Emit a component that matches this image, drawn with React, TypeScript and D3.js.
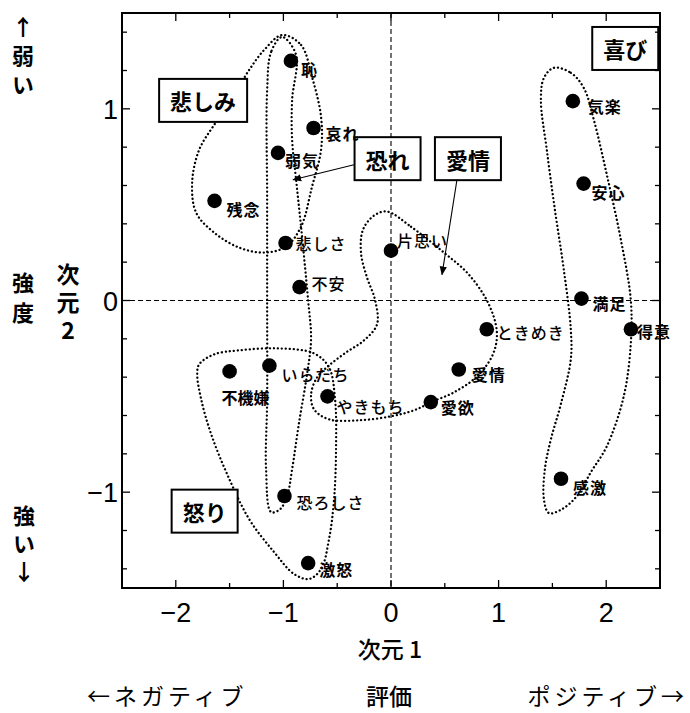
import React from "react";
import * as d3 from "d3";

// ---- data ----
const emotions = ["恥", "哀れ", "弱気", "残念", "悲しさ", "不安", "片思い", "気楽", "安心", "満足", "ときめき", "得意", "愛情", "愛欲", "感激", "不機嫌", "いらだち", "やきもち", "恐ろしさ", "激怒"];
const dim1 = [-0.93, -0.72, -1.05, -1.64, -0.98, -0.85, 0.0, 1.69, 1.79, 1.77, 0.89, 2.23, 0.63, 0.37, 1.58, -1.5, -1.13, -0.59, -0.99, -0.77];
const dim2 = [1.25, 0.9, 0.77, 0.52, 0.3, 0.07, 0.26, 1.04, 0.61, 0.01, -0.15, -0.15, -0.36, -0.53, -0.93, -0.37, -0.34, -0.5, -1.02, -1.37];

const xTicks = [-2, -1, 0, 1, 2];
const yTicks = [-1, 0, 1];

// cluster outlines (dimension 1, dimension 2)
const outlineSadness: [number, number][] = [
  [-1.012, 1.385], [-0.836, 1.333], [-0.734, 1.167], [-0.65, 0.958], [-0.65, 0.786], [-0.734, 0.594],
  [-0.836, 0.385], [-0.975, 0.281], [-1.179, 0.25], [-1.411, 0.276], [-1.643, 0.354], [-1.811, 0.458],
  [-1.848, 0.615], [-1.783, 0.786], [-1.625, 0.932], [-1.458, 1.073], [-1.318, 1.203], [-1.179, 1.307],
];
const outlineFear: [number, number][] = [
  [-1.012, 1.375], [-1.114, 1.297], [-1.151, 1.099], [-1.151, 0.526], [-1.151, 0.005], [-1.151, -0.516],
  [-1.161, -0.88], [-1.114, -1.104], [-1.031, -1.089], [-0.966, -1.021], [-0.919, -0.88], [-0.854, -0.635],
  [-0.78, -0.385], [-0.743, -0.203], [-0.771, 0.005], [-0.836, 0.385], [-0.882, 0.63], [-0.919, 0.839],
  [-0.919, 1.047], [-0.882, 1.281],
];
const outlineAnger: [number, number][] = [
  [-1.783, -0.333], [-1.643, -0.281], [-1.411, -0.26], [-1.04, -0.25], [-0.715, -0.276], [-0.576, -0.349],
  [-0.52, -0.516], [-0.511, -0.776], [-0.529, -1.036], [-0.576, -1.245], [-0.65, -1.401], [-0.761, -1.453],
  [-0.901, -1.427], [-1.086, -1.313], [-1.318, -1.141], [-1.523, -0.906], [-1.671, -0.698], [-1.764, -0.516],
  [-1.801, -0.385],
];
const outlineLove: [number, number][] = [
  [-0.037, 0.464], [0.186, 0.385], [0.492, 0.25], [0.724, 0.135], [0.91, -0.021], [0.984, -0.167],
  [0.947, -0.281], [0.799, -0.396], [0.585, -0.479], [0.371, -0.531], [0.214, -0.573], [0.0, -0.604],
  [-0.297, -0.625], [-0.576, -0.62], [-0.715, -0.568], [-0.743, -0.49], [-0.687, -0.401], [-0.576, -0.339],
  [-0.418, -0.271], [-0.251, -0.208], [-0.13, -0.125], [-0.149, 0.005], [-0.223, 0.12], [-0.279, 0.25],
  [-0.26, 0.37], [-0.158, 0.443],
];
const outlineJoy: [number, number][] = [
  [1.513, 1.214], [1.671, 1.188], [1.792, 1.109], [1.885, 0.943], [2.006, 0.656], [2.136, 0.318],
  [2.228, 0.005], [2.228, -0.229], [2.163, -0.5], [2.006, -0.76], [1.857, -0.896], [1.727, -1.021],
  [1.588, -1.089], [1.467, -1.109], [1.421, -1.036], [1.43, -0.88], [1.486, -0.724], [1.578, -0.542],
  [1.671, -0.307], [1.671, -0.151], [1.606, 0.161], [1.523, 0.474], [1.448, 0.786], [1.393, 1.047],
  [1.421, 1.161],
];
const outlines = [outlineSadness, outlineFear, outlineAnger, outlineLove, outlineJoy];

// group boxes
const groupNames = ["悲しみ", "恐れ", "愛情", "喜び", "怒り"];
const groupX = [-1.746, -0.032, 0.715, 2.177, -1.732];
const groupY = [1.044, 0.74, 0.74, 1.315, -1.099];

// arrows from boxes
const arrowFromX = [-0.344, 0.613];
const arrowFromY = [0.708, 0.63];
const arrowToX = [-0.91, 0.474];
const arrowToY = [0.63, 0.135];

// side titles
const sideTitles = ["↑弱い", "強度", "次元2", "強い↓"];

// ---- layout ----
const W = 690;
const H = 713;
const L = 122, R = 660, T = 13, B = 588;

const labelNudge: Record<string, [number, number]> = {
  "恥": [10, 8], "哀れ": [12, 5], "弱気": [7, 7], "残念": [12, 8], "悲しさ": [10, 0], "不安": [12, -4],
  "片思い": [6, -11], "気楽": [15, 5], "安心": [8, 8], "満足": [11, 4], "ときめき": [10, 3], "得意": [6, 2],
  "愛情": [13, 4], "愛欲": [10, 5], "感激": [12, 8], "いらだち": [12, 8], "やきもち": [9, 10],
  "恐ろしさ": [12, 6], "激怒": [11, 6],
};
const boldLabels = new Set(["恥", "哀れ", "弱気", "残念", "気楽", "安心", "満足", "得意", "愛情", "愛欲", "感激", "不機嫌", "激怒"]);

// side title placement: column centre x, top y, font size, letter spacing
const sideLayout: [number, number, number, number][] = [
  [23, 16, 22, 7],
  [23, 272, 22, 8],
  [68, 263, 23, 5],
  [24, 505, 22, 6],
];

const JP = "'Noto Sans CJK JP', 'Noto Sans', sans-serif";
const NUM = "'Liberation Sans', Arial, sans-serif";

export default function App() {
  const x = d3.scaleLinear().domain([-2.5, 2.5]).range([L, R]);
  const y = d3.scaleLinear().domain([-1.5, 1.5]).range([B, T]);

  const line = d3
    .line<[number, number]>()
    .x((d) => x(d[0]))
    .y((d) => y(d[1]))
    .curve(d3.curveCatmullRomClosed.alpha(0.5));

  const xMinor = d3.range(-2.5, 2.51, 0.5);
  const yMinor = d3.range(-1.4, 1.41, 0.2).map((v) => Math.round(v * 10) / 10);

  const fmt = (v: number) => (v < 0 ? "\u2212" + Math.abs(v) : String(v));

  return (
    <svg width={W} height={H} style={{ position: "absolute", left: 0, top: 0, background: "#fff" }}>
      <defs>
        <marker id="ah" viewBox="0 0 10 10" refX="9" refY="5" markerWidth="9" markerHeight="9" orient="auto" markerUnits="userSpaceOnUse">
          <path d="M0,1 L10,5 L0,9 Z" fill="#000" />
        </marker>
      </defs>
      <rect x={0} y={0} width={W} height={H} fill="#fff" />

      {/* outlines */}
      {outlines.map((o, i) => (
        <path key={i} d={line(o) || ""} fill="none" stroke="#000" strokeWidth={2.3} strokeDasharray="0.1 3.9" strokeLinecap="round" />
      ))}

      {/* group boxes */}
      {groupNames.map((g, i) => {
        const fs = 22;
        const w = g.length * fs + 22;
        const h = 43;
        const cx = x(groupX[i]);
        const cy = y(groupY[i]);
        return (
          <g key={g}>
            <rect x={cx - w / 2} y={cy - h / 2} width={w} height={h} fill="#fff" stroke="#000" strokeWidth={2} />
            <text x={cx} y={cy} textAnchor="middle" dominantBaseline="central" fontFamily={JP} fontSize={fs} fontWeight={700}>
              {g}
            </text>
          </g>
        );
      })}

      {/* zero lines */}
      <line x1={x(0)} x2={x(0)} y1={T} y2={B} stroke="#000" strokeWidth={1.1} strokeDasharray="5 3" />
      <line x1={L} x2={R} y1={y(0)} y2={y(0)} stroke="#000" strokeWidth={1.1} strokeDasharray="5 3" />

      {/* arrows */}
      {arrowFromX.map((_, i) => (
        <line key={i} x1={x(arrowFromX[i])} y1={y(arrowFromY[i])} x2={x(arrowToX[i])} y2={y(arrowToY[i])} stroke="#000" strokeWidth={1.1} markerEnd="url(#ah)" />
      ))}

      {/* frame */}
      <rect x={L} y={T} width={R - L} height={B - T} fill="none" stroke="#000" strokeWidth={2} />

      {/* ticks */}
      {xMinor.map((v) => {
        const major = Math.abs(v - Math.round(v)) < 1e-6;
        const len = major ? 8 : 5;
        return (
          <g key={"xt" + v}>
            <line x1={x(v)} x2={x(v)} y1={B} y2={B - len} stroke="#000" strokeWidth={1.3} />
            <line x1={x(v)} x2={x(v)} y1={T} y2={T + len} stroke="#000" strokeWidth={1.3} />
          </g>
        );
      })}
      {yMinor.map((v) => {
        const major = Math.abs(v - Math.round(v)) < 1e-6;
        const len = major ? 8 : 5;
        return (
          <g key={"yt" + v}>
            <line x1={L} x2={L + len} y1={y(v)} y2={y(v)} stroke="#000" strokeWidth={1.3} />
            <line x1={R} x2={R - len} y1={y(v)} y2={y(v)} stroke="#000" strokeWidth={1.3} />
          </g>
        );
      })}
      {xTicks.map((v) => (
        <text key={"xl" + v} x={x(v)} y={622} textAnchor="middle" fontFamily={NUM} fontSize={27}>
          {fmt(v)}
        </text>
      ))}
      {yTicks.map((v) => (
        <text key={"yl" + v} x={118} y={y(v)} dy={10} textAnchor="end" fontFamily={NUM} fontSize={27}>
          {fmt(v)}
        </text>
      ))}

      {/* points */}
      {emotions.map((e, i) => (
        <circle key={"p" + e} cx={x(dim1[i])} cy={y(dim2[i])} r={7.3} fill="#000" />
      ))}
      {emotions.map((e, i) => {
        const px = x(dim1[i]);
        const py = y(dim2[i]);
        if (e === "不機嫌") {
          return (
            <text key={"l" + e} x={px + 16} y={py + 26} textAnchor="middle" dominantBaseline="central" fontFamily={JP} fontSize={16} fontWeight={700}>
              {e}
            </text>
          );
        }
        const [dx, dy] = labelNudge[e] || [10, 6];
        return (
          <text key={"l" + e} x={px + dx} y={py + dy} dominantBaseline="central" fontFamily={JP} fontSize={16} letterSpacing={1} fontWeight={boldLabels.has(e) ? 700 : 500}>
            {e}
          </text>
        );
      })}

      {/* axis titles */}
      <text x={390} y={648} textAnchor="middle" dominantBaseline="central" fontFamily={JP} fontSize={23} fontWeight={500}>
        次元 1
      </text>
      <text x={389} y={695} textAnchor="middle" dominantBaseline="central" fontFamily={JP} fontSize={23} fontWeight={500}>
        評価
      </text>
      <text x={87} y={695} dominantBaseline="central" fontFamily={JP} fontSize={23} fontWeight={400} letterSpacing={4}>
        ←ネガティブ
      </text>
      <text x={688} y={695} textAnchor="end" dominantBaseline="central" fontFamily={JP} fontSize={23} fontWeight={400} letterSpacing={4}>
        ポジティブ→
      </text>

      {/* vertical side titles */}
      {sideTitles.map((s, i) => {
        const [cx, top, fs, ls] = sideLayout[i];
        return (
          <text
            key={"side" + i}
            x={cx}
            y={top}
            fontFamily={JP}
            fontSize={fs}
            fontWeight={700}
            letterSpacing={ls}
            style={{ writingMode: "vertical-rl", textOrientation: "upright" } as React.CSSProperties}
          >
            {s}
          </text>
        );
      })}
    </svg>
  );
}
